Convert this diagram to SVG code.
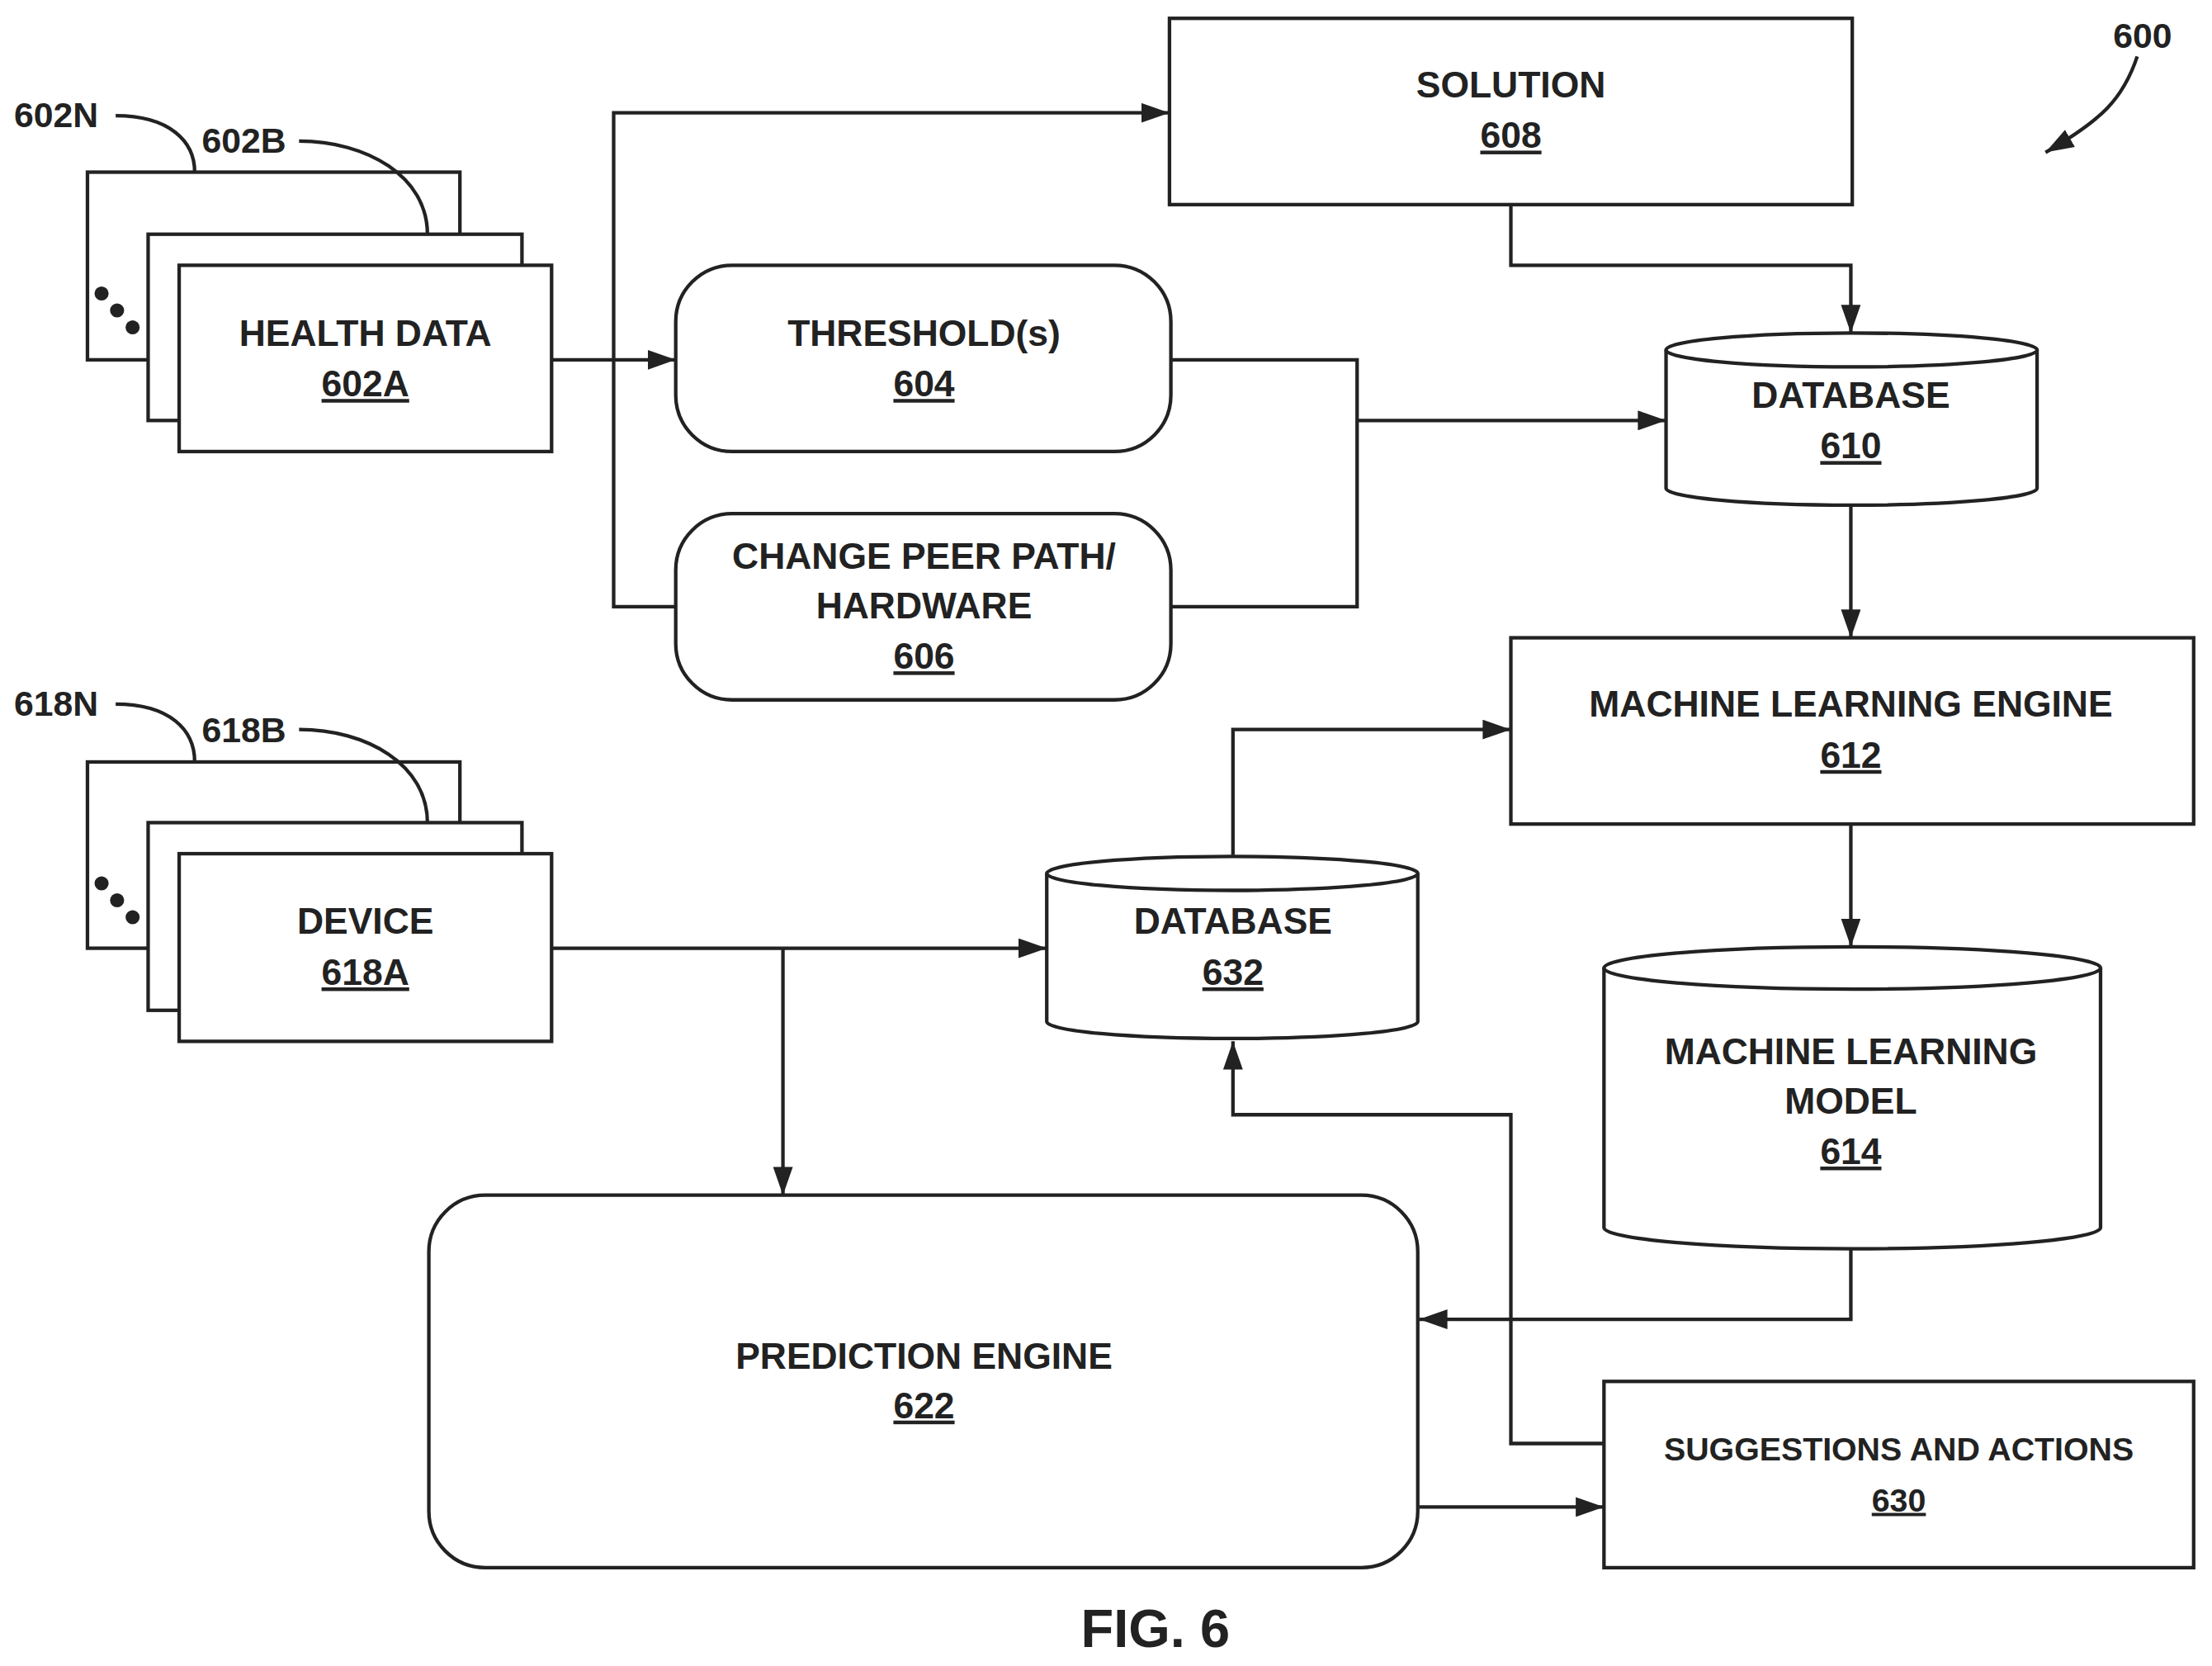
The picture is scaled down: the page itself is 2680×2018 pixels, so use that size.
<svg xmlns="http://www.w3.org/2000/svg" width="2680" height="2018" viewBox="0 0 2680 2018">
<defs>
<marker id="ar" markerWidth="20" markerHeight="14" refX="20" refY="7" orient="auto" markerUnits="userSpaceOnUse"><path d="M0,0 L20,7 L0,14 Z" fill="#222"/></marker>
<style>
.b{fill:#fff;stroke:#222;stroke-width:2.5}
.c{fill:none;stroke:#222;stroke-width:2.5}
.t{font-family:"Liberation Sans",Arial,sans-serif;font-weight:bold;font-size:26px;fill:#222;text-anchor:middle}
.u{text-decoration:underline}
.l{font-family:"Liberation Sans",Arial,sans-serif;font-weight:bold;font-size:25px;fill:#222}
</style>
</defs>
<rect width="2680" height="2018" fill="#fff"/>
<g transform="scale(1.70918)">
<g id="n602">
<rect class="b" x="62" y="122" width="264" height="133"/>
<rect class="b" x="105" y="166" width="265" height="132"/>
<rect class="b" x="127" y="188" width="264" height="132"/>
<circle cx="72" cy="208" r="5" fill="#222"/><circle cx="83" cy="220" r="5" fill="#222"/><circle cx="94" cy="232" r="5" fill="#222"/>
<text class="t" x="259" y="245">HEALTH DATA</text>
<text class="t u" x="259" y="281">602A</text>
<text class="l" x="10" y="90">602N</text>
<text class="l" x="143" y="108">602B</text>
</g>
<g id="n618">
<rect class="b" x="62" y="540" width="264" height="132"/>
<rect class="b" x="105" y="583" width="265" height="133"/>
<rect class="b" x="127" y="605" width="264" height="133"/>
<circle cx="72" cy="626" r="5" fill="#222"/><circle cx="83" cy="638" r="5" fill="#222"/><circle cx="94" cy="650" r="5" fill="#222"/>
<text class="t" x="259" y="662">DEVICE</text>
<text class="t u" x="259" y="698">618A</text>
<text class="l" x="10" y="507">618N</text>
<text class="l" x="143" y="526">618B</text>
</g>
<g id="n608"><rect class="b" x="829" y="13" width="484" height="132"/>
<text class="t" x="1071" y="69">SOLUTION</text><text class="t u" x="1071" y="105">608</text></g>
<g id="n604"><rect class="b" x="479" y="188" width="351" height="132" rx="40"/>
<text class="t" x="655" y="245">THRESHOLD(s)</text><text class="t u" x="655" y="281">604</text></g>
<g id="n606"><rect class="b" x="479" y="364" width="351" height="132" rx="40"/>
<text class="t" x="655" y="403">CHANGE PEER PATH/</text><text class="t" x="655" y="438">HARDWARE</text><text class="t u" x="655" y="474">606</text></g>
<g id="n610"><path class="b" d="M1181,248 V346 A131.5,12 0 0 0 1444,346 V248 A131.5,12 0 0 0 1181,248 Z"/><path class="c" d="M1181,248 A131.5,12 0 0 0 1444,248"/>
<text class="t" x="1312" y="289">DATABASE</text><text class="t u" x="1312" y="325">610</text></g>
<g id="n612"><rect class="b" x="1071" y="452" width="484" height="132"/>
<text class="t" x="1312" y="508">MACHINE LEARNING ENGINE</text><text class="t u" x="1312" y="544">612</text></g>
<g id="n614"><path class="b" d="M1137,686 V870 A176,15 0 0 0 1489,870 V686 A176,15 0 0 0 1137,686 Z"/><path class="c" d="M1137,686 A176,15 0 0 0 1489,686"/>
<text class="t" x="1312" y="754">MACHINE LEARNING</text><text class="t" x="1312" y="789">MODEL</text><text class="t u" x="1312" y="825">614</text></g>
<g id="n632"><path class="b" d="M742,619 V724 A131.5,12 0 0 0 1005,724 V619 A131.5,12 0 0 0 742,619 Z"/><path class="c" d="M742,619 A131.5,12 0 0 0 1005,619"/>
<text class="t" x="874" y="662">DATABASE</text><text class="t u" x="874" y="698">632</text></g>
<g id="n622"><rect class="b" x="304" y="847" width="701" height="264" rx="40"/>
<text class="t" x="655" y="970">PREDICTION ENGINE</text><text class="t u" x="655" y="1005">622</text></g>
<g id="n630"><rect class="b" x="1137" y="979" width="418" height="132"/>
<text class="t" x="1346" y="1035" style="font-size:23px">SUGGESTIONS AND ACTIONS</text><text class="t u" x="1346" y="1071" style="font-size:23px">630</text></g>
<text class="l" x="1498" y="34">600</text>
<text class="t" x="819" y="1167" style="font-size:38px">FIG. 6</text>
<g id="connectors" class="c">
<path d="M391,255 H479" marker-end="url(#ar)"/>
<path d="M435,255 V80 H829" marker-end="url(#ar)"/>
<path d="M435,255 V430 H479"/>
<path d="M830,255 H962 V430 H830"/>
<path d="M962,298 H1181" marker-end="url(#ar)"/>
<path d="M1071,145 V188 H1312 V236" marker-end="url(#ar)"/>
<path d="M1312,358 V452" marker-end="url(#ar)"/>
<path d="M1312,584 V671" marker-end="url(#ar)"/>
<path d="M874,606 V517 H1071" marker-end="url(#ar)"/>
<path d="M391,672 H742" marker-end="url(#ar)"/>
<path d="M555,672 V847" marker-end="url(#ar)"/>
<path d="M1312,885 V935 H1006" marker-end="url(#ar)"/>
<path d="M1137,1023 H1071 V790 H874 V738" marker-end="url(#ar)"/>
<path d="M1006,1068 H1137" marker-end="url(#ar)"/>
<path d="M82,82 C120,82 138,100 138,122"/>
<path d="M212,100 C260,100 303,125 303,166"/>
<path d="M82,499 C120,499 138,517 138,540"/>
<path d="M212,517 C260,517 303,542 303,583"/>
<path d="M1515,40 C1505,70 1490,85 1450,108" marker-end="url(#ar)"/>
</g>
</g>
</svg>
